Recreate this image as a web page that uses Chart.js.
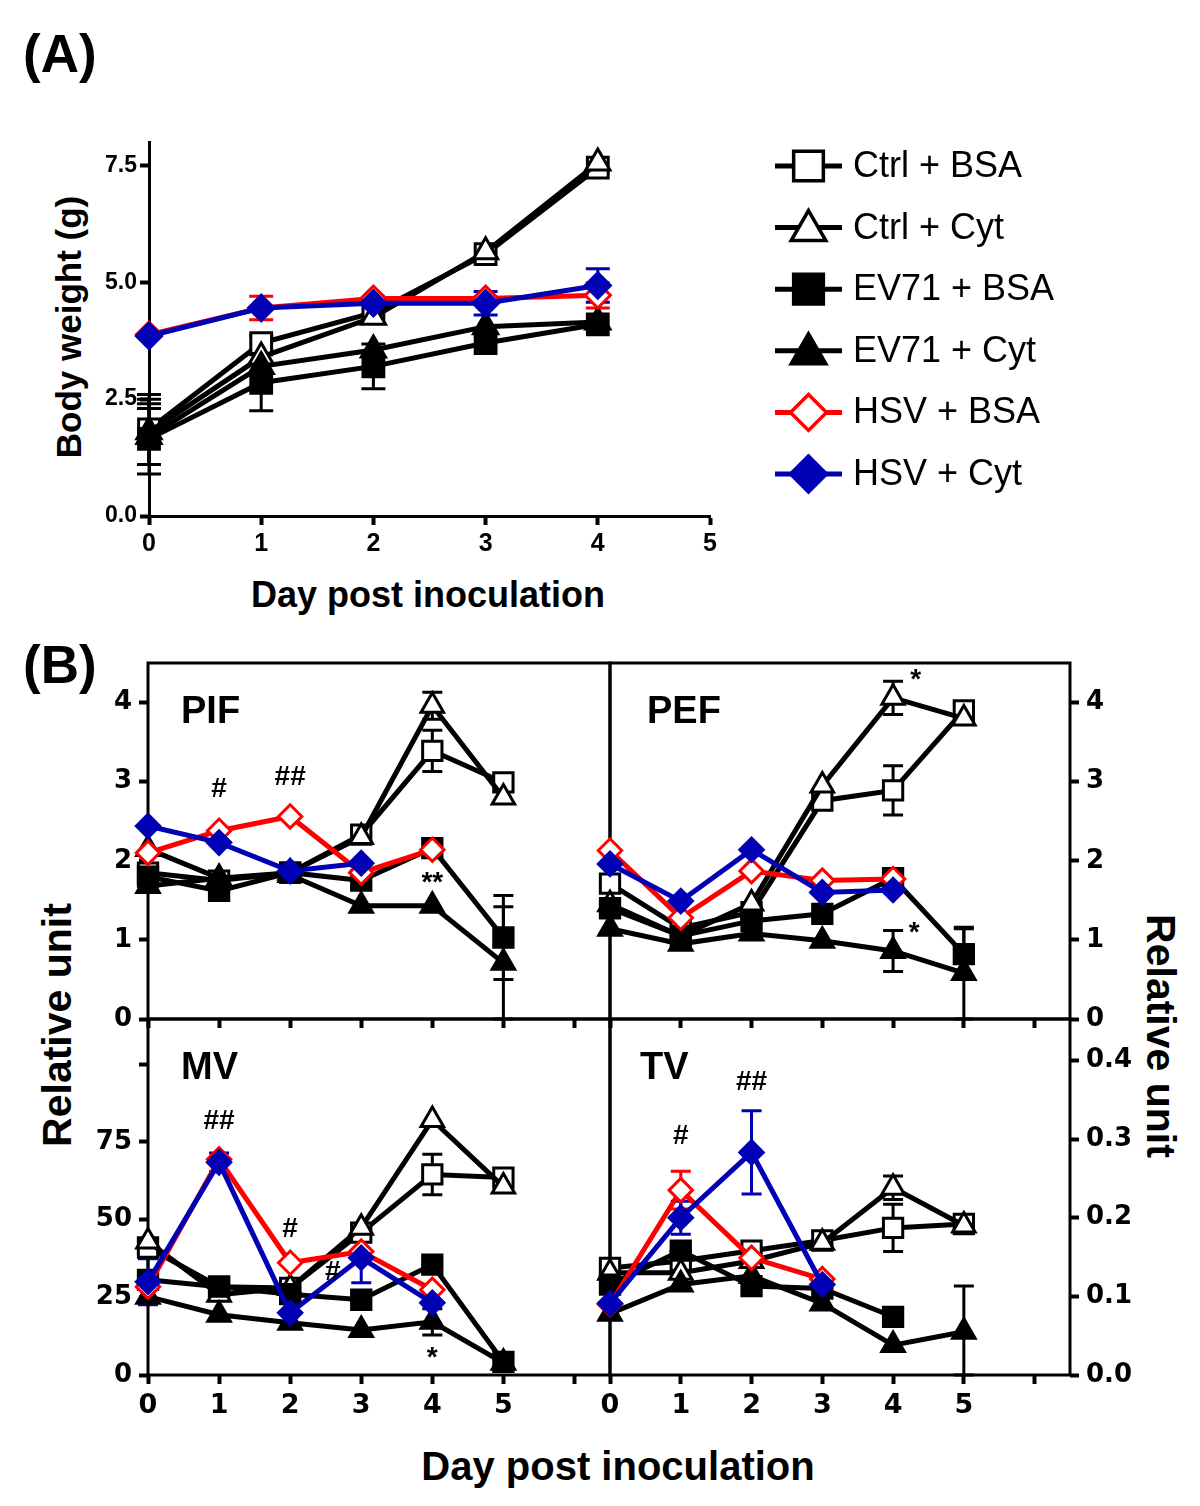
<!DOCTYPE html>
<html>
<head>
<meta charset="utf-8">
<script src="https://cdn.jsdelivr.net/npm/chart.js@4.4.1/dist/chart.umd.min.js"></script>
<style>
  body { margin: 0; background: #fff; width: 1200px; height: 1506px; position: relative; overflow: hidden;
         font-family: "Liberation Sans", Arial, sans-serif; }
  canvas { position: absolute; left: 0; }
  .t { position: absolute; font-weight: bold; color: #000; white-space: nowrap; line-height: 1; }
  .rot { transform: translate(-50%, -50%) rotate(-90deg); }
  .rot2 { transform: translate(-50%, -50%) rotate(90deg); }
  .ctr { transform: translate(-50%, -50%); }
</style>
</head>
<body>
<div class="t" style="left:23px;top:27px;font-size:53px">(A)</div>
<div class="t" style="left:23px;top:638px;font-size:53px">(B)</div>
<div class="t rot" style="left:68px;top:327px;font-size:35px">Body weight (g)</div>
<div class="t ctr" style="left:428px;top:595px;font-size:36px">Day post inoculation</div>
<div class="t rot" style="left:57px;top:1025px;font-size:41px">Relative unit</div>
<div class="t rot2" style="left:1160px;top:1036px;font-size:41px">Relative unit</div>
<div class="t ctr" style="left:618px;top:1466px;font-size:40px">Day post inoculation</div>

<canvas id="chartA" width="1200" height="640" style="top:0"></canvas>
<canvas id="chartPIF" width="1200" height="886" style="top:620px"></canvas>
<canvas id="chartPEF" width="1200" height="886" style="top:620px"></canvas>
<canvas id="chartMV" width="1200" height="886" style="top:620px"></canvas>
<canvas id="chartTV" width="1200" height="886" style="top:620px"></canvas>

<script>
const days = [0, 1, 2, 3, 4, 5];
const seriesNames = ['Ctrl + BSA', 'Ctrl + Cyt', 'EV71 + BSA', 'EV71 + Cyt', 'HSV + BSA', 'HSV + Cyt'];

// (A) body weight, g
const bwCtrlBsa = [1.85, 3.7, 4.35, 5.6, 7.45];
const bwCtrlCyt = [1.8, 3.4, 4.25, 5.65, 7.55];
const bwEv71Bsa = [1.65, 2.85, 3.2, 3.7, 4.1];
const bwEv71Cyt = [1.7, 3.2, 3.55, 4.05, 4.15];
const bwHsvBsa = [3.88, 4.45, 4.65, 4.65, 4.72];
const bwHsvCyt = [3.85, 4.45, 4.55, 4.55, 4.93];
const bwErrCtrlBsa = [0.75, 0.15, 0, 0, 0];
const bwErrCtrlCyt = [0.7, 0, 0, 0, 0];
const bwErrEv71Bsa = [0.75, 0.6, 0.48, 0, 0];
const bwErrEv71Cyt = [0.6, 0, 0, 0, 0];
const bwErrHsvBsa = [0, 0.25, 0, 0, 0.27];
const bwErrHsvCyt = [0, 0, 0, 0.25, 0.36];

// (B) PIF
const pifCtrlBsa = [1.85, 1.75, 1.85, 2.33, 3.39, 2.99];
const pifCtrlCyt = [2.15, 1.78, 1.85, 2.3, 3.96, 2.8];
const pifEv71Bsa = [1.8, 1.62, 1.85, 1.75, 2.16, 1.03];
const pifEv71Cyt = [1.68, 1.78, 1.82, 1.43, 1.43, 0.71];
const pifHsvBsa = [2.1, 2.38, 2.56, 1.85, 2.14];
const pifHsvCyt = [2.44, 2.23, 1.87, 1.97];
const pifErrCtrlBsa = [0, 0, 0, 0, 0.26, 0];
const pifErrCtrlCyt = [0, 0, 0, 0, 0.17, 0];
const pifErrEv71Bsa = [0, 0, 0, 0, 0, 0.53];
const pifErrEv71Cyt = [0, 0, 0, 0, 0, 0.71];
const pifNotes = [{ x: 1, y: 2.9, text: '#' }, { x: 2, y: 3.05, text: '##' }, { x: 4, y: 1.72, text: '**' }];

// (B) PEF
const pefCtrlBsa = [1.71, 1.15, 1.35, 2.76, 2.89, 3.9];
const pefCtrlCyt = [1.45, 1.05, 1.46, 2.95, 4.06, 3.8];
const pefEv71Bsa = [1.4, 1.05, 1.24, 1.33, 1.78, 0.82];
const pefEv71Cyt = [1.14, 0.95, 1.08, 0.99, 0.86, 0.58];
const pefHsvBsa = [2.13, 1.28, 1.87, 1.75, 1.77];
const pefHsvCyt = [1.96, 1.49, 2.14, 1.6, 1.63];
const pefErrCtrlBsa = [0, 0, 0, 0, 0.31, 0];
const pefErrCtrlCyt = [0, 0, 0, 0, 0.21, 0];
const pefErrEv71Bsa = [0, 0, 0, 0, 0, 0.32];
const pefErrEv71Cyt = [0, 0, 0, 0, 0.26, 0.58];
const pefNotes = [{ x: 4.32, y: 4.28, text: '*' }, { x: 4.3, y: 1.08, text: '*' }];

// (B) MV
const mvCtrlBsa = [41, 28.4, 28, 45.8, 64.5, 63.5];
const mvCtrlCyt = [42.9, 25.8, 28, 47.4, 82, 60.6];
const mvEv71Bsa = [30.6, 28.4, 26, 24.2, 35.5, 4.2];
const mvEv71Cyt = [25.2, 19.4, 16.8, 14.5, 17.1, 3.9];
const mvHsvBsa = [28.4, 69.4, 36.1, 39.7, 27.4];
const mvHsvCyt = [30, 68.4, 20, 37.7, 23.2];
const mvErrCtrlBsa = [0, 0, 0, 0, 6.5, 0];
const mvErrEv71Cyt = [0, 0, 0, 0, 4.2, 0];
const mvErrHsvCyt = [7.4, 3, 0, 8, 0];
const mvNotes = [{ x: 1, y: 81.6, text: '##' }, { x: 2, y: 46.8, text: '#' },
                 { x: 2.6, y: 33, text: '#' }, { x: 4, y: 5.5, text: '*' }];

// (B) TV
const tvCtrlBsa = [0.136, 0.145, 0.158, 0.171, 0.187, 0.192];
const tvCtrlCyt = [0.13, 0.13, 0.145, 0.168, 0.238, 0.19];
const tvEv71Bsa = [0.115, 0.158, 0.113, 0.11, 0.074];
const tvEv71Cyt = [0.078, 0.115, 0.126, 0.091, 0.038, 0.055];
const tvHsvBsa = [0.09, 0.235, 0.149, 0.122];
const tvHsvCyt = [0.091, 0.2, 0.283, 0.115];
const tvErrCtrlBsa = [0, 0, 0, 0, 0.03, 0];
const tvErrCtrlCyt = [0, 0, 0, 0, 0.015, 0];
const tvErrEv71Cyt = [0, 0, 0, 0, 0, 0.058];
const tvErrHsvBsa = [0, 0.024, 0, 0];
const tvErrHsvCyt = [0, 0.021, 0.053, 0];
const tvNotes = [{ x: 1, y: 0.303, text: '#' }, { x: 2, y: 0.372, text: '##' }];

const xTicksB = [0, 1, 2, 3, 4, 5, 6];
const bwTicks = [0, 2.5, 5, 7.5];
const pifTicks = [0, 1, 2, 3, 4];
const mvTicks = [0, 25, 50, 75, 100];
const tvTicks = [0, 0.1, 0.2, 0.3, 0.4];

const STYLE = [
  { color: '#000000', shape: 'rect', open: true, order: 5 },
  { color: '#000000', shape: 'triangle', open: true, order: 4 },
  { color: '#000000', shape: 'rect', open: false, order: 3 },
  { color: '#000000', shape: 'triangle', open: false, order: 2 },
  { color: '#ff0000', shape: 'rectRot', open: true, order: 1 },
  { color: '#0000b4', shape: 'rectRot', open: false, order: 0 }
];

function markerRadius(shape, r) {
  if (shape === 'rect') return r * 1.05;
  if (shape === 'rectRot') return r * 0.9;
  return r;
}

function buildDatasets(valueLists, errLists, r) {
  return seriesNames.map((name, i) => {
    const st = STYLE[i];
    return {
      label: name,
      data: valueLists[i].map((v, j) => ({ x: days[j], y: v })),
      errors: errLists[i] || null,
      borderColor: st.color,
      backgroundColor: st.color,
      borderWidth: 5,
      pointStyle: st.shape,
      pointRadius: markerRadius(st.shape, r),
      pointBackgroundColor: st.open ? '#ffffff' : st.color,
      pointBorderColor: st.color,
      pointBorderWidth: 3,
      order: st.order,
      clip: false,
      tension: 0
    };
  });
}

const errorBars = {
  id: 'errorBars',
  beforeDatasetsDraw(chart, args, opts) {
    const ctx = chart.ctx, xs = chart.scales.x, ys = chart.scales.y;
    const cap = opts.cap || 10;
    chart.data.datasets.forEach(ds => {
      if (!ds.errors) return;
      ctx.save();
      ctx.strokeStyle = ds.borderColor;
      ctx.lineWidth = 3;
      ds.data.forEach((p, j) => {
        const e = ds.errors[j];
        if (!e) return;
        const px = xs.getPixelForValue(p.x);
        const hi = ys.getPixelForValue(p.y + e);
        const lo = ys.getPixelForValue(Math.max(p.y - e, ys.min));
        ctx.beginPath();
        ctx.moveTo(px, hi); ctx.lineTo(px, lo);
        ctx.moveTo(px - cap, hi); ctx.lineTo(px + cap, hi);
        ctx.moveTo(px - cap, lo); ctx.lineTo(px + cap, lo);
        ctx.stroke();
      });
      ctx.restore();
    });
  }
};

const frame = {
  id: 'frame',
  beforeDatasetsDraw(chart, args, opts) {
    if (!opts.show) return;
    const a = chart.chartArea, ctx = chart.ctx;
    ctx.save();
    ctx.strokeStyle = '#000';
    ctx.lineWidth = 3;
    ctx.strokeRect(a.left, a.top, a.right - a.left, a.bottom - a.top);
    ctx.restore();
  }
};

const notes = {
  id: 'notes',
  afterDatasetsDraw(chart, args, opts) {
    const ctx = chart.ctx, xs = chart.scales.x, ys = chart.scales.y;
    ctx.save();
    ctx.fillStyle = '#000';
    ctx.textAlign = 'center';
    ctx.textBaseline = 'middle';
    if (opts.items) {
      ctx.font = 'bold 28px "Liberation Sans", Arial, sans-serif';
      opts.items.forEach(n => ctx.fillText(n.text, xs.getPixelForValue(n.x), ys.getPixelForValue(n.y)));
    }
    if (opts.title) {
      ctx.textAlign = 'left';
      ctx.font = 'bold 38px "Liberation Sans", Arial, sans-serif';
      ctx.fillText(opts.title, chart.chartArea.left + opts.titleDx, chart.chartArea.top + 50);
    }
    ctx.restore();
  }
};

const sideLegend = {
  id: 'sideLegend',
  afterDraw(chart, args, opts) {
    if (!opts.show) return;
    const ctx = chart.ctx;
    chart.data.datasets.forEach((ds, i) => {
      const y = opts.top + i * opts.step;
      const cx = opts.left + opts.lineLen / 2;
      ctx.save();
      ctx.strokeStyle = ds.borderColor;
      ctx.lineWidth = 5;
      ctx.beginPath();
      ctx.moveTo(opts.left, y);
      ctx.lineTo(opts.left + opts.lineLen, y);
      ctx.stroke();
      ctx.fillStyle = ds.pointBackgroundColor;
      ctx.strokeStyle = ds.pointBorderColor;
      ctx.lineWidth = 3.5;
      Chart.helpers.drawPoint(ctx, {
        pointStyle: ds.pointStyle, rotation: 0, borderWidth: 3.5,
        radius: markerRadius(ds.pointStyle, 20)
      }, cx, ds.pointStyle === 'triangle' ? y + 3 : y);
      ctx.fillStyle = '#000';
      ctx.font = '36px "Liberation Sans", Arial, sans-serif';
      ctx.textBaseline = 'middle';
      ctx.textAlign = 'left';
      ctx.fillText(ds.label, opts.left + opts.lineLen + 11, y + 1);
      ctx.restore();
    });
  }
};

Chart.register(errorBars, frame, notes, sideLegend);

function fixTicks(values) {
  return scale => { scale.ticks = values.map(v => ({ value: v })); };
}

const tickGrid = {
  display: true, drawOnChartArea: false, drawTicks: true,
  tickLength: 9, tickWidth: 4, tickColor: '#000', color: '#000'
};

// ---------- panel A ----------
const XH_A = 70;
new Chart(document.getElementById('chartA'), {
  type: 'line',
  data: {
    datasets: buildDatasets(
      [bwCtrlBsa, bwCtrlCyt, bwEv71Bsa, bwEv71Cyt, bwHsvBsa, bwHsvCyt],
      [bwErrCtrlBsa, bwErrCtrlCyt, bwErrEv71Bsa, bwErrEv71Cyt, bwErrHsvBsa, bwErrHsvCyt], 14)
  },
  options: {
    responsive: false, animation: false, events: [],
    layout: { padding: { left: 0, top: 142, right: 1200 - 710, bottom: 640 - 516 - XH_A } },
    scales: {
      x: {
        type: 'linear', min: 0, max: 5,
        afterBuildTicks: fixTicks(days),
        afterFit: s => { s.height = XH_A; s.paddingLeft = 0; s.paddingRight = 0; },
        border: { display: true, width: 3, color: '#000' },
        grid: tickGrid,
        ticks: { padding: 4, color: '#000', font: { family: 'Liberation Sans', weight: 'bold', size: 25 } }
      },
      y: {
        min: 0, max: 8,
        afterBuildTicks: fixTicks(bwTicks),
        afterFit: s => { s.width = 149; s.paddingTop = 0; s.paddingBottom = 0; },
        border: { display: true, width: 3, color: '#000' },
        grid: tickGrid,
        ticks: { padding: 3, color: '#000', font: { family: 'Liberation Sans', weight: 'bold', size: 23 },
                 callback: v => v.toFixed(1) }
      }
    },
    plugins: {
      legend: { display: false }, tooltip: { enabled: false },
      errorBars: { cap: 12 },
      frame: { show: false },
      notes: {},
      sideLegend: { show: true, left: 775, lineLen: 67, top: 166, step: 61.6 }
    }
  }
});

// ---------- panel B ----------
const B_TOP = 620, B_H = 886, XH_B = 62;

function panelChart(id, o) {
  const left = o.side === 'left';
  return new Chart(document.getElementById(id), {
    type: 'line',
    data: { datasets: buildDatasets(o.values, o.errors, 13) },
    options: {
      responsive: false, animation: false, events: [],
      layout: {
        padding: {
          left: left ? 0 : o.area.l,
          right: left ? 1200 - o.area.r : 0,
          top: o.area.t - B_TOP,
          bottom: B_H - (o.area.b - B_TOP) - XH_B
        }
      },
      scales: {
        x: {
          type: 'linear', min: 0, max: 6.5,
          afterBuildTicks: fixTicks(xTicksB),
          afterFit: s => { s.height = XH_B; s.paddingLeft = 0; s.paddingRight = 0; },
          border: { display: false },
          grid: tickGrid,
          ticks: { padding: 6, color: '#000', font: { family: 'DejaVu Sans', weight: 'bold', size: 27 },
                   callback: v => (o.showX && v <= 5) ? String(v) : '' }
        },
        y: {
          position: o.side, min: 0, max: o.yMax,
          afterBuildTicks: fixTicks(o.yTicks),
          afterFit: s => { s.width = left ? o.area.l : 1200 - o.area.r; s.paddingTop = 0; s.paddingBottom = 0; },
          border: { display: false },
          grid: tickGrid,
          ticks: { padding: 7, color: '#000', font: { family: 'DejaVu Sans', weight: 'bold', size: 26 },
                   callback: o.fmt }
        }
      },
      plugins: {
        legend: { display: false }, tooltip: { enabled: false },
        errorBars: { cap: 10 },
        frame: { show: true },
        notes: { items: o.notes, title: o.title, titleDx: o.titleDx },
        sideLegend: { show: false }
      }
    }
  });
}

const L = 148, MID = 610, R = 1070, T = 663, HM = 1019, BOT = 1375;

panelChart('chartPIF', {
  side: 'left', area: { l: L, r: MID, t: T, b: HM }, showX: false,
  yMax: 4.5, yTicks: pifTicks, fmt: v => String(v),
  values: [pifCtrlBsa, pifCtrlCyt, pifEv71Bsa, pifEv71Cyt, pifHsvBsa, pifHsvCyt],
  errors: [pifErrCtrlBsa, pifErrCtrlCyt, pifErrEv71Bsa, pifErrEv71Cyt],
  notes: pifNotes, title: 'PIF', titleDx: 33
});

panelChart('chartPEF', {
  side: 'right', area: { l: MID, r: R, t: T, b: HM }, showX: false,
  yMax: 4.5, yTicks: pifTicks, fmt: v => String(v),
  values: [pefCtrlBsa, pefCtrlCyt, pefEv71Bsa, pefEv71Cyt, pefHsvBsa, pefHsvCyt],
  errors: [pefErrCtrlBsa, pefErrCtrlCyt, pefErrEv71Bsa, pefErrEv71Cyt],
  notes: pefNotes, title: 'PEF', titleDx: 37
});

panelChart('chartMV', {
  side: 'left', area: { l: L, r: MID, t: HM, b: BOT }, showX: true,
  yMax: 114.5, yTicks: mvTicks, fmt: v => (v === 100 ? '' : String(v)),
  values: [mvCtrlBsa, mvCtrlCyt, mvEv71Bsa, mvEv71Cyt, mvHsvBsa, mvHsvCyt],
  errors: [mvErrCtrlBsa, null, null, mvErrEv71Cyt, null, mvErrHsvCyt],
  notes: mvNotes, title: 'MV', titleDx: 33
});

panelChart('chartTV', {
  side: 'right', area: { l: MID, r: R, t: HM, b: BOT }, showX: true,
  yMax: 0.4526, yTicks: tvTicks, fmt: v => v.toFixed(1),
  values: [tvCtrlBsa, tvCtrlCyt, tvEv71Bsa, tvEv71Cyt, tvHsvBsa, tvHsvCyt],
  errors: [tvErrCtrlBsa, tvErrCtrlCyt, null, tvErrEv71Cyt, tvErrHsvBsa, tvErrHsvCyt],
  notes: tvNotes, title: 'TV', titleDx: 30
});
</script>
</body>
</html>
